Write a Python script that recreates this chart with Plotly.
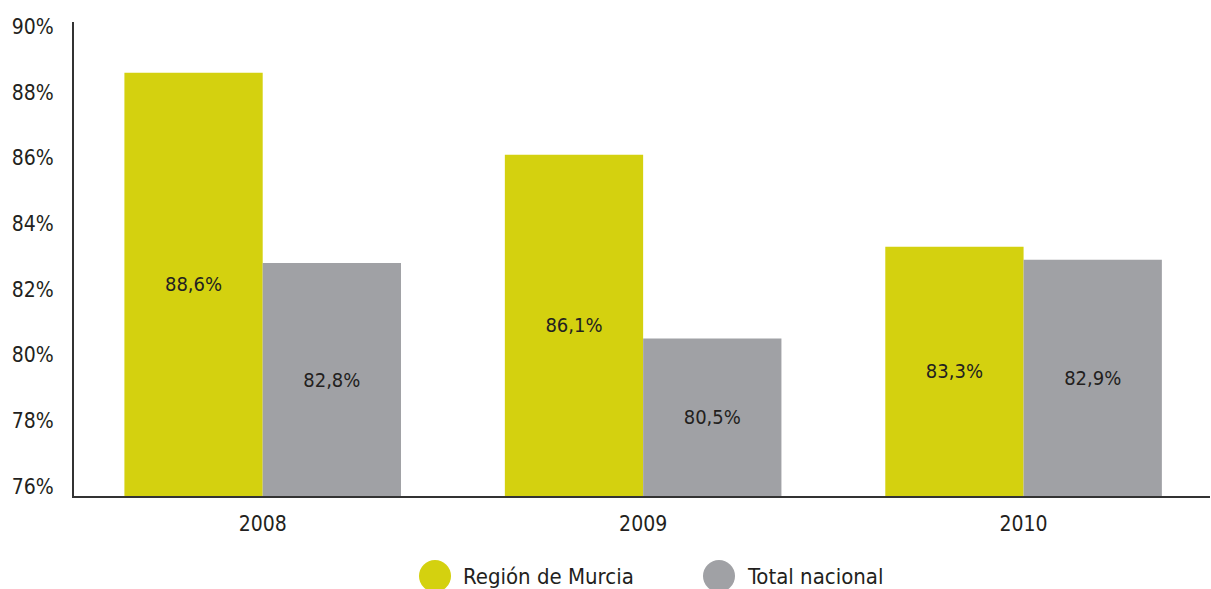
import plotly.graph_objects as go

years = ["2008", "2009", "2010"]
series_names = ["Región de Murcia", "Total nacional"]
murcia = [88.6, 86.1, 83.3]
nacional = [82.8, 80.5, 82.9]
colors = ["#d4d10f", "#a0a1a5"]
ytick_vals = [76, 78, 80, 82, 84, 86, 88, 90]
ytick_text = ["76%", "78%", "80%", "82%", "84%", "86%", "88%", "90%"]

FONT = "DejaVu Sans Condensed, Roboto, sans-serif"
TXT = "#231f20"
Y_MIN, Y_MAX = 75.7, 90.15

def fmt(v):
    return f"{v:.1f}".replace(".", ",") + "%"

fig = go.Figure()
for name, vals, col in zip(series_names, [murcia, nacional], colors):
    fig.add_trace(go.Bar(
        x=years, y=[v - Y_MIN for v in vals], base=Y_MIN, name=name,
        marker=dict(color=col, line=dict(width=0)),
        text=[fmt(v) for v in vals], textposition="inside", insidetextanchor="middle",
        textfont=dict(family=FONT, size=20, color=TXT), showlegend=False, textangle=0,
        cliponaxis=False,
    ))

fig.update_layout(
    width=1211, height=589,
    margin=dict(l=74, r=1, t=22, b=93),
    barmode="group", bargap=0.273, bargroupgap=0,
    plot_bgcolor="white", paper_bgcolor="white",
    font=dict(family=FONT, size=21, color=TXT),
    xaxis=dict(range=[-0.496, 2.49], showline=True, linecolor="#333333", linewidth=2,
               ticks="", tickfont=dict(size=21, color=TXT), showgrid=False, zeroline=False,
               ticklabelstandoff=8),
    yaxis=dict(range=[Y_MIN, Y_MAX], tickvals=ytick_vals, ticktext=ytick_text,
               showline=True, linecolor="#333333", linewidth=2, ticks="",
               showgrid=False, zeroline=False, tickfont=dict(size=21, color=TXT),
               ticklabelstandoff=14),
    showlegend=False,
)

# legend drawn manually with circles
leg_x = [435, 719]
for name, col, cx in zip(series_names, colors, leg_x):
    fig.add_shape(type="circle", xref="paper", yref="paper",
                  x0=(cx - 16 - 74) / 1136, x1=(cx + 16 - 74) / 1136,
                  y0=(496 - 576 - 16) / 474, y1=(496 - 576 + 16) / 474,
                  fillcolor=col, line=dict(width=0))
    fig.add_annotation(text=name, xref="paper", yref="paper",
                       x=(cx + 26 - 74) / 1136, y=(496 - 576) / 474,
                       xanchor="left", yanchor="middle", showarrow=False,
                       font=dict(family=FONT, size=22, color=TXT))

fig.write_html("out.html", config={"displayModeBar": False},
               post_script="document.body.style.margin='0';document.body.style.padding='0';")
